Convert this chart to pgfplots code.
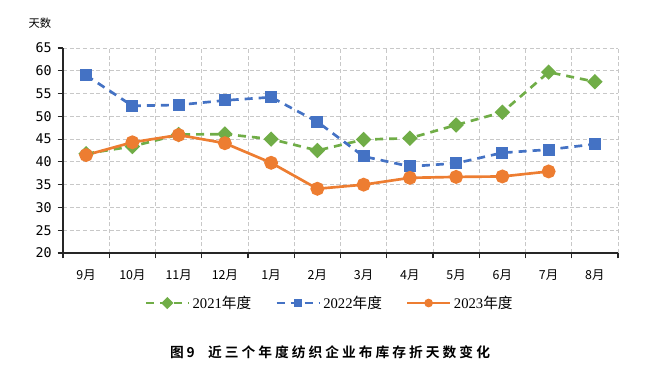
\documentclass[border=0pt]{standalone}
\usepackage{fontspec}
\setmainfont{Liberation Serif}
\newfontfamily\cjk{Noto Sans CJK SC}
\newfontfamily\cjktitle[LetterSpace=22]{Noto Sans CJK SC Bold}
\newfontfamily\mono{DejaVu Sans Mono}
\newfontfamily\sans{Liberation Sans}
\usepackage{pgfplots}
\pgfplotsset{compat=1.18}
\definecolor{cA}{HTML}{70AD47}
\definecolor{cB}{HTML}{4472C4}
\definecolor{cC}{HTML}{ED7D31}
\definecolor{gridc}{HTML}{C8C8C8}
\begin{document}
\begin{tikzpicture}
\useasboundingbox (0pt,0pt) rectangle (496.5pt,-274.5pt);
\node[font=\cjk\fontsize{8.5}{10}\selectfont] at (30pt,-17.25pt) {天数};
\begin{axis}[
  at={(47.25pt,-189.75pt)}, anchor=south west,
  scale only axis, width=416.25pt, height=153.75pt,
  xmin=-0.5, xmax=11.5, ymin=20, ymax=65,
  axis x line*=bottom, axis y line*=left,
  axis line style={-, line width=1.1pt, color=black!85},
  xtick={0,...,11},
  xticklabels={9月,10月,11月,12月,1月,2月,3月,4月,5月,6月,7月,8月},
  minor xtick={-0.5,0.5,...,11.5},
  major x tick style={draw=none},
  minor x tick style={line width=0.9pt, color=black!85},
  ytick={20,25,...,65},
  yticklabels={20,25,30,35,40,45,50,55,60,65},
  y tick style={line width=0.9pt, color=black!85},
  tick align=outside,
  major tick length=4pt, minor tick length=4pt,
  xminorgrids=true, ymajorgrids=true, xmajorgrids=false,
  grid style={color=gridc, line width=0.6pt, dash pattern=on 3pt off 2pt},
  minor grid style={color=gridc, line width=0.6pt, dash pattern=on 3pt off 2pt},
  xticklabel style={font=\cjk\fontsize{9.3}{10}\selectfont, yshift=-5pt},
  yticklabel style={font=\mono\fontsize{10}{11}\selectfont, xshift=-1pt},
  legend style={at={(0.481,-0.244)}, anchor=center, draw=none, fill=none,
    font=\fontsize{11}{12}\selectfont, legend columns=3,
    /tikz/every even column/.append style={column sep=16pt}},
  legend image code/.code={\draw[mark repeat=2,mark phase=2,mark size=2.2pt] plot coordinates {(0pt,0pt)(16pt,0pt)(32pt,0pt)};},
]
\addplot[color=cA, line width=2pt, dash pattern=on 6pt off 4.5pt, mark=square*, mark size=3.1pt, mark options={rotate=45, solid, fill=cA}]
  coordinates {(0,41.8)(1,43.4)(2,46.0)(3,46.1)(4,45.0)(5,42.5)(6,44.9)(7,45.2)(8,48.1)(9,50.9)(10,59.7)(11,57.6)};
\addlegendentry{2021{\cjk 年度}}
\addplot[color=cB, line width=2pt, dash pattern=on 6pt off 4.5pt, mark=square*, mark size=3.5pt, mark options={solid, fill=cB}]
  coordinates {(0,59.0)(1,52.3)(2,52.5)(3,53.5)(4,54.2)(5,48.8)(6,41.2)(7,39.0)(8,39.7)(9,42.0)(10,42.7)(11,43.9)};
\addlegendentry{2022{\cjk 年度}}
\addplot[color=cC, line width=2pt, solid, mark=*, mark size=4.2pt, mark options={solid, fill=cC}]
  coordinates {(0,41.5)(1,44.3)(2,45.9)(3,44.1)(4,39.8)(5,34.1)(6,35.0)(7,36.5)(8,36.7)(9,36.8)(10,37.9)};
\addlegendentry{2023{\cjk 年度}}
\end{axis}
\node[font=\cjktitle\fontsize{10.3}{12}\selectfont] at (247.5pt,-264pt) {图9\hspace{10pt}近三个年度纺织企业布库存折天数变化};
\end{tikzpicture}
\end{document}
